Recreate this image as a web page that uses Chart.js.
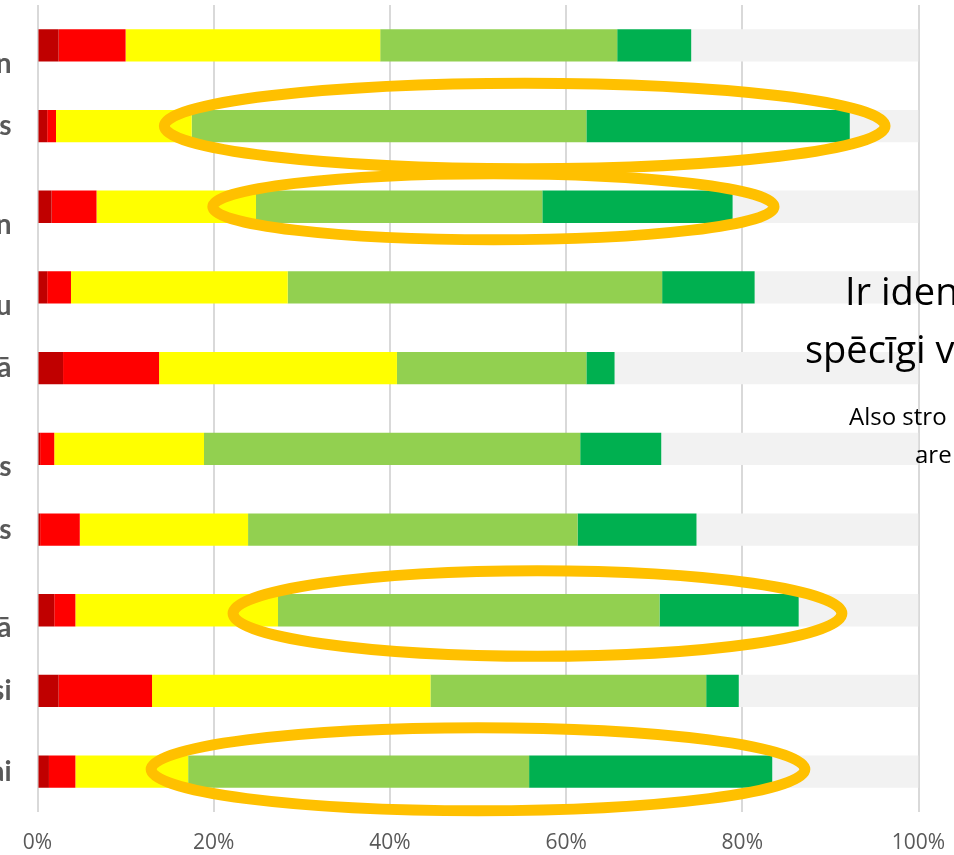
<!DOCTYPE html>
<html>
<head>
<meta charset="utf-8">
<script src="https://cdn.jsdelivr.net/npm/chart.js@4/dist/chart.umd.min.js"></script>
<style>
  html, body { margin: 0; padding: 0; background: #fff; overflow: hidden; }
  body { width: 954px; height: 855px; position: relative; font-family: 'Open Sans', sans-serif; }
  /* canvas sticks out on the left so the long category names are cut off like in the slide */
  #wrap { position: absolute; left: -300px; top: 0; width: 1254px; height: 855px; }
  .note { position: absolute; white-space: nowrap; color: #000; line-height: 1; }
  .big { font-size: 38px; }
  .small { font-size: 24px; }
</style>
</head>
<body>
<div id="wrap"><canvas id="chart"></canvas></div>
<div class="note big" style="left:845px; top:271px;">Ir iden</div>
<div class="note big" style="left:805px; top:329px;">spēcīgi v</div>
<div class="note small" style="left:849px; top:404px;">Also stro</div>
<div class="note small" style="left:915px; top:442px;">are</div>

<script>
// kategorijas (redzamas tikai nogrieztās beigas)
const categories = [
  ['', 'n'], 's', ['', 'n'], ['', 'u'], 'ā',
  ['', 's'], 's', ['', 'ā'], 'si', 'ai'
];

// vērtības procentos, katrā rindā summa = 100
const darkRedVals  = [2.4, 1.1, 1.6, 1.1, 2.9, 0.3, 0.3, 1.9, 2.4, 1.3];
const redVals      = [7.6, 1.0, 5.1, 2.7, 10.9, 1.6, 4.5, 2.4, 10.6, 3.0];
const yellowVals   = [28.9, 15.4, 18.1, 24.6, 27.0, 17.0, 19.1, 23.0, 31.6, 12.8];
const lightGrVals  = [26.9, 44.8, 32.5, 42.5, 21.5, 42.7, 37.4, 43.3, 31.3, 38.7];
const greenVals    = [8.4, 29.9, 21.6, 10.5, 3.2, 9.2, 13.5, 15.8, 3.7, 27.6];
const greyVals     = [25.8, 7.8, 21.1, 18.6, 34.5, 29.2, 25.2, 13.6, 20.4, 16.6];

const xTicks = [0, 20, 40, 60, 80, 100];

// oranžās elipses: rinda, no %, līdz %, pusaugstums rindās
const ellipseRows  = [1, 2, 7.04, 8.97];
const ellipseFrom  = [14.4, 19.9, 22.2, 12.9];
const ellipseTo    = [96.2, 83.6, 91.3, 87.1];
const ellipseHalf  = [0.53, 0.41, 0.53, 0.515];

const COLORS = ['#C00000', '#FF0000', '#FFFF00', '#92D050', '#00B050', '#F2F2F2'];
const SERIES = [darkRedVals, redVals, yellowVals, lightGrVals, greenVals, greyVals];

const ellipsePlugin = {
  id: 'ellipses',
  afterDatasetsDraw(chart) {
    const { ctx, scales: { x, y } } = chart;
    const step = y.getPixelForValue(1) - y.getPixelForValue(0);
    ctx.save();
    ctx.strokeStyle = '#FFC000';
    ctx.lineWidth = 11;
    ellipseRows.forEach((row, i) => {
      const x0 = x.getPixelForValue(ellipseFrom[i]);
      const x1 = x.getPixelForValue(ellipseTo[i]);
      ctx.beginPath();
      ctx.ellipse((x0 + x1) / 2, y.getPixelForValue(row), (x1 - x0) / 2,
        Math.abs(step) * ellipseHalf[i], 0, 0, Math.PI * 2);
      ctx.stroke();
    });
    ctx.restore();
  }
};

new Chart(document.getElementById('chart').getContext('2d'), {
  type: 'bar',
  data: {
    labels: categories,
    datasets: SERIES.map((vals, i) => ({
      label: 'S' + (i + 1),
      data: vals,
      backgroundColor: COLORS[i],
      borderWidth: 0,
      barPercentage: 0.4,
      categoryPercentage: 1,
    })),
  },
  options: {
    indexAxis: 'y',
    responsive: true,
    maintainAspectRatio: false,
    animation: false,
    layout: { padding: { top: 5, right: 35.5, left: 0, bottom: 0 } },
    scales: {
      x: {
        stacked: true,
        min: 0,
        max: 100,
        afterBuildTicks: s => { s.ticks = xTicks.map(v => ({ value: v })); },
        afterFit: s => { s.height = 43; s.paddingLeft = 0; s.paddingRight = 0; },
        ticks: {
          color: '#595959',
          font: { family: 'Open Sans', size: 21 },
          padding: 18,
          maxRotation: 0,
          callback: v => v + '%',
        },
        grid: { color: '#D9D9D9', lineWidth: 2, drawTicks: false },
        border: { display: false },
      },
      y: {
        stacked: true,
        afterFit: s => { s.width = 337.5; s.paddingTop = 0; s.paddingBottom = 0; },
        ticks: {
          color: '#595959',
          font: { family: 'Lato', size: 28, weight: 'bold', lineHeight: 1.3 },
          padding: 26,
          autoSkip: false,
        },
        grid: { display: false, drawTicks: false, tickLength: 0 },
        border: { display: false },
      },
    },
    plugins: {
      legend: { display: false },
      tooltip: { enabled: false },
    },
  },
  plugins: [ellipsePlugin],
});
</script>
</body>
</html>
